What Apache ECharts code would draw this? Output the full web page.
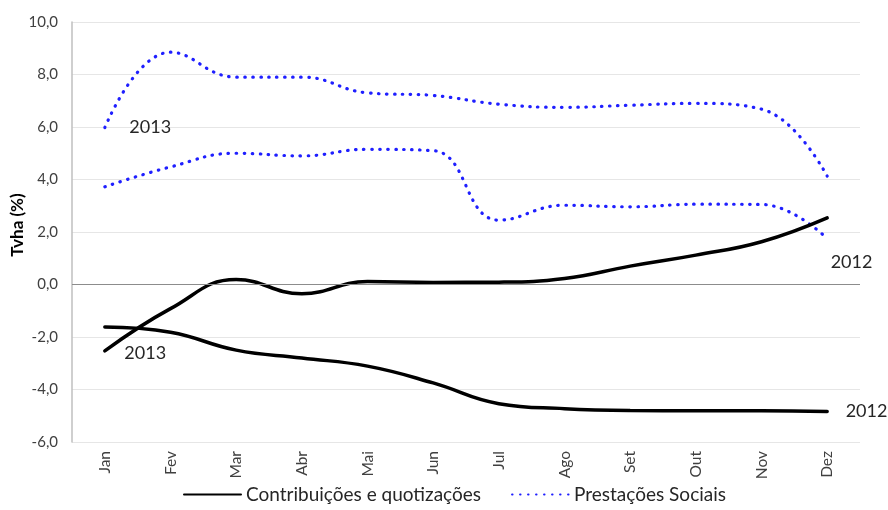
<!DOCTYPE html>
<html>
<head>
<meta charset="utf-8">
<script src="https://cdn.jsdelivr.net/npm/echarts@6/dist/echarts.min.js"></script>
<style>
  html, body { margin: 0; padding: 0; background: #ffffff; }
  #chart { width: 888px; height: 510px; }
</style>
</head>
<body>
<div id="chart"></div>
<script>
// Monthly year-on-year change rates (%)
const months = ['Jan', 'Fev', 'Mar', 'Abr', 'Mai', 'Jun', 'Jul', 'Ago', 'Set', 'Out', 'Nov', 'Dez'];
const contrib2013 = [-2.53, -0.92, 0.19, -0.35, 0.11, 0.08, 0.09, 0.23, 0.70, 1.12, 1.63, 2.54];
const contrib2012 = [-1.62, -1.82, -2.50, -2.80, -3.11, -3.75, -4.54, -4.73, -4.80, -4.81, -4.81, -4.84];
const prest2013 = [5.98, 8.85, 7.90, 7.90, 7.30, 7.20, 6.87, 6.75, 6.83, 6.90, 6.68, 4.13];
const prest2012 = [3.72, 4.48, 5.00, 4.90, 5.15, 5.10, 2.45, 3.02, 2.96, 3.06, 3.05, 1.75];
const yearTags = ['2013', '2012'];
const legendNames = ['Contribuições e quotizações', 'Prestações Sociais'];

const FONT = 'Lato';
const TXT = '#404040';

// Attach a year tag to one point of a series (invisible anchor symbol)
function tagged(values, index, text, offset) {
  return values.map(function (v, i) {
    if (i !== index) return v;
    return {
      value: v,
      symbol: 'circle',
      symbolSize: 1,
      itemStyle: { color: 'rgba(0,0,0,0)' },
      label: {
        show: true,
        position: 'right',
        offset: offset,
        formatter: text,
        color: '#262626',
        fontFamily: FONT,
        fontSize: 18
      }
    };
  });
}

const solid = { color: '#000000', width: 3.5, type: 'solid', cap: 'round' };
const dotted = { color: '#1f1fff', width: 3.2, type: [0.5, 7.5], cap: 'round' };

const chart = echarts.init(document.getElementById('chart'), null, { renderer: 'canvas' });
chart.setOption({
  animation: false,
  backgroundColor: '#ffffff',
  grid: { left: 72, right: 28, top: 22, bottom: 68, containLabel: false, outerBoundsMode: 'none' },
  legend: {
    data: legendNames,
    bottom: 1,
    left: 178,
    itemWidth: 57,
    itemHeight: 10,
    itemGap: 30,
    itemStyle: { opacity: 0 },
    textStyle: { fontFamily: FONT, fontSize: 19, color: '#262626' }
  },
  xAxis: {
    type: 'category',
    data: months,
    boundaryGap: true,
    axisLine: { show: false, onZero: false },
    axisTick: { show: false },
    axisLabel: {
      rotate: 90,
      margin: 9,
      color: TXT,
      fontFamily: FONT,
      fontSize: 15.5
    },
    splitLine: { show: false }
  },
  yAxis: {
    type: 'value',
    min: -6,
    max: 10,
    interval: 2,
    name: 'Tvha (%)',
    nameLocation: 'middle',
    nameGap: 46,
    nameMoveOverlap: false,
    nameTextStyle: {
      fontFamily: FONT,
      fontSize: 17,
      fontWeight: 'bold',
      color: '#000000',
      padding: [0, 0, 0, 14]
    },
    axisLine: { show: true, lineStyle: { color: '#bfbfbf', width: 1.5 } },
    axisTick: { show: false },
    axisLabel: {
      margin: 14,
      color: TXT,
      fontFamily: FONT,
      fontSize: 15,
      formatter: function (v) { return v.toFixed(1).replace('.', ','); }
    },
    splitLine: { show: true, lineStyle: { color: '#e6e6e6', width: 1 } }
  },
  series: [
    {
      name: legendNames[0],
      type: 'line',
      smooth: 0.45,
      symbol: 'none',
      showSymbol: true,
      lineStyle: solid,
      itemStyle: { color: '#000000' },
      data: tagged(contrib2013, 0, yearTags[0], [14, 2]),
      markLine: {
        silent: true,
        symbol: 'none',
        label: { show: false },
        lineStyle: { color: '#8c8c8c', width: 1, type: 'solid' },
        data: [{ yAxis: 0 }]
      },
      z: 3
    },
    {
      name: legendNames[0],
      type: 'line',
      smooth: 0.45,
      symbol: 'none',
      showSymbol: true,
      lineStyle: solid,
      itemStyle: { color: '#000000' },
      data: tagged(contrib2012, 11, yearTags[1], [13, 0]),
      z: 3
    },
    {
      name: legendNames[1],
      type: 'line',
      smooth: 0.45,
      symbol: 'none',
      showSymbol: true,
      lineStyle: dotted,
      itemStyle: { color: '#1f1fff' },
      data: tagged(prest2013, 0, yearTags[0], [19, 0]),
      z: 2
    },
    {
      name: legendNames[1],
      type: 'line',
      smooth: 0.45,
      symbol: 'none',
      showSymbol: true,
      lineStyle: dotted,
      itemStyle: { color: '#1f1fff' },
      data: tagged(prest2012, 11, yearTags[1], [-2, 24]),
      z: 2
    }
  ]
});
</script>
</body>
</html>
